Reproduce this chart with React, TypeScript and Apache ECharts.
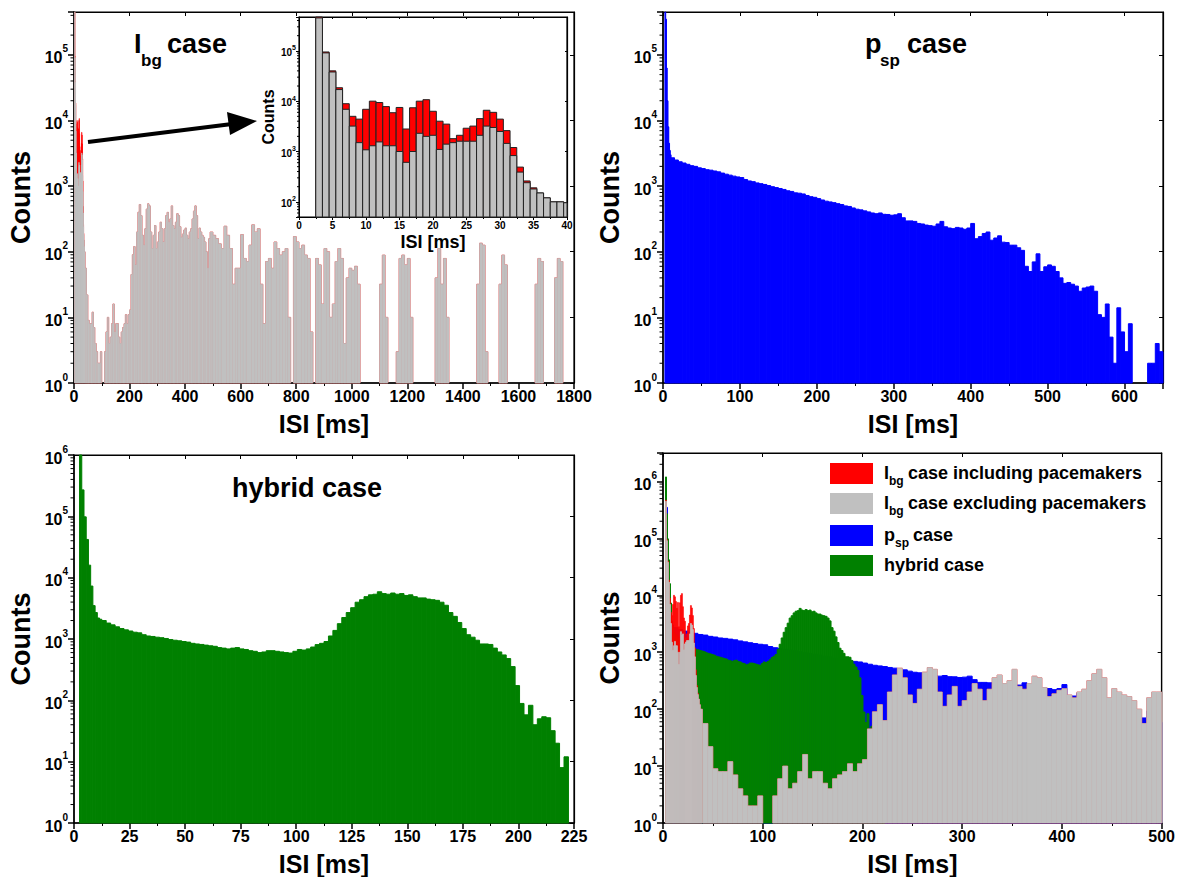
import React, { useEffect, useRef } from 'react';
import * as echarts from 'echarts';

const FONT = "'Liberation Sans', Arial, Helvetica, sans-serif";

// ---------- DATA ----------
// I_bg case, 1-ms bins (centres in ms), as shown in the inset
const insetCentres = [3, 4, 5, 6, 7, 8, 9, 10, 11, 12, 13, 14, 15, 16, 17, 18, 19, 20, 21, 22, 23, 24, 25, 26, 27, 28, 29, 30, 31, 32, 33, 34, 35, 36, 37, 38, 39, 40];
const ibgExclFine = [450000, 91000, 38000, 17000, 6900, 3200, 1500, 1080, 1300, 1550, 1300, 1300, 1000, 610, 1000, 2300, 2000, 2100, 1100, 1400, 1500, 1600, 1600, 1600, 2100, 3200, 3000, 2500, 1450, 830, 390, 240, 180, 150, 120, 100, 100, 96];
const ibgInclFine = [470000, 95000, 40000, 18500, 8900, 5000, 4400, 6900, 10000, 9400, 7800, 5900, 7500, 2800, 7400, 10000, 10700, 6300, 4000, 3500, 1800, 2100, 2900, 3200, 4500, 6600, 6000, 4400, 2600, 1200, 490, 260, 190, 150, 120, 100, 100, 96];

// I_bg case, 5-ms bins from 40 ms to 500 ms (pacemakers contribute nothing here)
const ibgMidStart = 40;
const ibgMidWidth = 5;
const ibgMid = [
  56, 22, 9, 8, 8, 12, 7, 4, 3, 2,
  2, 3, 1, 0, 3, 6, 10, 4, 5, 8,
  16, 6, 8, 8, 5, 4, 6, 7, 8, 11,
  8, 11, 13, 45, 90, 120, 63, 200, 400, 525,
  355, 178, 126, 224, 447, 537, 500, 200, 112, 178,
  251, 112, 141, 200, 282, 224, 141, 224, 355, 398,
  282, 316, 500, 251, 224, 282, 380, 355, 240, 166,
  186, 214, 229, 178, 158, 200, 224, 316, 417, 500,
  355, 158, 229, 200, 178, 166, 141, 100, 56, 158,
  200, 200,
];

// I_bg case, 10-ms bins from 500 ms to 1800 ms
const ibgFarStart = 500;
const ibgFarWidth = 10;
const ibgFar = [
  178, 158, 132, 112, 245, 178, 112, 32, 56, 56,
  182, 79, 71, 126, 257, 200, 224, 32, 8, 71,
  79, 56, 141, 112, 89, 100, 112, 10, 0, 170,
  141, 112, 126, 89, 79, 6, 0, 79, 63, 16,
  112, 100, 10, 16, 71, 112, 79, 4, 40, 56,
  52, 60, 32, 0, 0, 0, 0, 0, 0, 0,
  32, 89, 10, 0, 0, 0, 3, 79, 89, 63,
  79, 10, 0, 0, 0, 0, 0, 0, 0, 0,
  40, 112, 32, 79, 10, 0, 0, 0, 0, 0,
  0, 0, 0, 0, 0, 32, 135, 126, 3, 0,
  0, 0, 0, 32, 89, 63, 0, 0, 0, 0,
  0, 0, 0, 0, 0, 0, 32, 79, 71, 0,
  0, 0, 0, 40, 79, 71, 0, 0, 0, 0,
];

// p_sp case
const pspFineStart = 2.5;
const pspFineWidth = 1;
const pspFine = [500000, 350000, 63000, 20000, 8000, 4500, 3500, 3000];
const pspMainStart = 10;
const pspMainWidth = 5;
const pspMain = [
  2700, 2500, 2350, 2250, 2150, 2050, 2000, 1900, 1850, 1780,
  1750, 1700, 1650, 1580, 1520, 1470, 1420, 1380, 1350, 1260,
  1200, 1170, 1120, 1090, 1060, 1020, 980, 950, 920, 890,
  850, 830, 790, 780, 760, 720, 690, 675, 645, 615,
  590, 575, 560, 540, 525, 500, 490, 465, 445, 435,
  420, 405, 390, 380, 390, 372, 370, 360, 365, 380,
  330, 295, 295, 290, 270, 265, 255, 250, 245, 265,
  290, 240, 230, 225, 235, 230, 220, 230, 270, 158,
  170, 190, 200, 150, 162, 175, 140, 138, 126, 126,
  115, 105, 60, 50, 70, 93, 50, 59, 63, 60,
  50, 40, 33, 34, 32, 30, 25, 28, 29, 30,
  25, 11, 10, 16, 5, 2, 14, 6, 3, 8,
  0, 0, 0, 0, 2, 2, 4, 3,
];

// hybrid case
const hybFineStart = 2.5;
const hybFineWidth = 1;
const hybFine = [1200000, 270000, 98000, 42000, 16000, 7300, 3500, 2700, 2200, 2100];
const hybMainStart = 12.5;
const hybMainWidth = 2;
const hybMain = [
  2000, 1820, 1700, 1580, 1480, 1410, 1350, 1290, 1260, 1175,
  1120, 1100, 1070, 1050, 1020, 980, 955, 935, 910, 890,
  850, 830, 815, 795, 775, 760, 725, 710, 690, 710,
  725, 690, 675, 645, 630, 600, 615, 645, 645, 630,
  615, 600, 590, 630, 675, 660, 690, 740, 810, 850,
  910, 1120, 1380, 1780, 2240, 2700, 3240, 3980, 4370, 4900,
  5250, 5370, 5890, 5500, 5370, 5620, 5370, 5500, 5130, 5250,
  4900, 4680, 4680, 4470, 4370, 4270, 3980, 3550, 2700, 2340,
  1860, 1480, 1175, 1070, 955, 830, 830, 815, 710, 615,
  550, 480, 355, 174, 89, 58, 83, 40, 50, 54,
  52, 32, 20, 8, 12, 0,
];

const COLORS = { red: '#FF0000', gray: '#C0C0C0', blue: '#0000FF', green: '#008000' };

// ---------- helpers ----------
type Bin = [number, number, number];
const bins = (start: number, width: number, vals: number[]): Bin[] =>
  vals.map((v, i) => [start + i * width, start + (i + 1) * width, v] as Bin).filter((d) => d[2] > 0);
const centred = (centres: number[], vals: number[]): Bin[] =>
  vals.map((v, i) => [centres[i] - 0.5, centres[i] + 0.5, v] as Bin).filter((d) => d[2] > 0);

const nFine = 37; // main panels use the 1-ms bins up to 39.5 ms
const ibgExclAll = [
  ...centred(insetCentres.slice(0, nFine), ibgExclFine.slice(0, nFine)),
  ...bins(ibgMidStart, ibgMidWidth, ibgMid),
  ...bins(ibgFarStart, ibgFarWidth, ibgFar),
];
const ibgInclAll = [
  ...centred(insetCentres.slice(0, nFine), ibgInclFine.slice(0, nFine)),
  ...bins(ibgMidStart, ibgMidWidth, ibgMid),
  ...bins(ibgFarStart, ibgFarWidth, ibgFar),
];
const pspAll = [...bins(pspFineStart, pspFineWidth, pspFine), ...bins(pspMainStart, pspMainWidth, pspMain)];
const hybAll = [...bins(hybFineStart, hybFineWidth, hybFine), ...bins(hybMainStart, hybMainWidth, hybMain)];

function hist(xi: number, data: Bin[], base: number, fill: string, stroke: string, lw: number) {
  return {
    type: 'custom',
    xAxisIndex: xi,
    yAxisIndex: xi,
    silent: true,
    data,
    encode: { x: [0, 1], y: 2 },
    renderItem: (params: any, api: any) => {
      const a = api.coord([api.value(0), base]);
      const b = api.coord([api.value(1), api.value(2)]);
      const cs = params.coordSys;
      const left = Math.max(a[0], cs.x);
      const right = Math.min(b[0], cs.x + cs.width);
      const top = Math.max(b[1], cs.y);
      const bottom = Math.min(a[1], cs.y + cs.height);
      if (right <= left || bottom <= top) return { type: 'group', children: [] };
      return {
        type: 'rect',
        shape: { x: left, y: top, width: right - left, height: bottom - top },
        style: { fill, stroke, lineWidth: lw },
      };
    },
  };
}

const MINOR = [2, 3, 4, 5, 6, 7, 8, 9];
function logMinorTicks(xi: number, xMin: number, yMin: number, yMax: number, len: number) {
  const vals: number[][] = [];
  for (let e = Math.floor(Math.log10(yMin)); e <= Math.ceil(Math.log10(yMax)); e++) {
    for (const k of MINOR) {
      const v = k * Math.pow(10, e);
      if (v >= yMin && v <= yMax) vals.push([xMin, v]);
    }
  }
  return {
    type: 'custom',
    xAxisIndex: xi,
    yAxisIndex: xi,
    silent: true,
    clip: false,
    data: vals,
    encode: { x: 0, y: 1 },
    renderItem: (_p: any, api: any) => {
      const c = api.coord([api.value(0), api.value(1)]);
      return { type: 'line', shape: { x1: c[0] - len, y1: c[1], x2: c[0], y2: c[1] }, style: { stroke: '#000', lineWidth: 1 } };
    },
  };
}

const t = (size: number) => ({ fontFamily: FONT, fontWeight: 'bold', fontSize: size, color: '#000' });

const powLabel = (v: number) => {
  const l = Math.log10(v);
  const e = Math.round(l);
  return Math.abs(l - e) < 1e-6 ? `{b|10}{s|${e}}` : '';
};

// panel definitions
const panels = [
  { grid: { left: 74, top: 12, width: 500, height: 371 }, xMax: 1800, xInt: 200, yMin: 1, yMax: 450000, big: true },
  { grid: { left: 663, top: 12, width: 500, height: 371 }, xMax: 650, xInt: 100, yMin: 1, yMax: 450000, big: true },
  { grid: { left: 74, top: 455, width: 500, height: 370 }, xMax: 225, xInt: 25, yMin: 1, yMax: 1000000, big: true },
  { grid: { left: 663, top: 453, width: 500, height: 372 }, xMax: 500, xInt: 100, yMin: 1, yMax: 3160000, big: true },
  { grid: { left: 299, top: 17, width: 268, height: 200 }, xMax: 40, xInt: 5, yMin: 50, yMax: 470000, big: false },
];

function buildOption() {
  const grid = panels.map((p) => ({
    ...p.grid,
    show: true,
    borderColor: '#000',
    borderWidth: 1.2,
    backgroundColor: p.big ? 'transparent' : '#fff',
    containLabel: false,
  }));

  const xAxis: any[] = [];
  const yAxis: any[] = [];
  panels.forEach((p, i) => {
    const fs = p.big ? 16 : 10;
    const lw = p.big ? 1.5 : 1;
    xAxis.push({
      type: 'value',
      gridIndex: i,
      min: 0,
      max: p.xMax,
      interval: p.xInt,
      position: 'bottom',
      axisLine: { onZero: false, lineStyle: { color: '#000', width: lw } },
      axisTick: { show: true, length: p.big ? 6 : 3, lineStyle: { color: '#000', width: lw } },
      minorTick: { show: true, splitNumber: 2, length: p.big ? 3 : 2, lineStyle: { color: '#000', width: 1 } },
      splitLine: { show: false },
      axisLabel: {
        ...t(fs),
        margin: p.big ? 5 : 3,
        formatter: (v: number) => (v % p.xInt === 0 ? String(v) : ''),
      },
      name: 'ISI [ms]',
      nameLocation: 'middle',
      nameGap: p.big ? 28 : 16,
      nameTextStyle: t(p.big ? 25 : 18),
    });
    yAxis.push({
      type: 'log',
      logBase: 10,
      gridIndex: i,
      min: p.yMin,
      max: p.yMax,
      position: 'left',
      axisLine: { onZero: false, lineStyle: { color: '#000', width: lw } },
      axisTick: { show: true, length: p.big ? 6 : 3, lineStyle: { color: '#000', width: lw } },
      splitLine: { show: false },
      axisLabel: {
        margin: p.big ? 6 : 3,
        formatter: powLabel,
        rich: {
          b: { ...t(fs), lineHeight: p.big ? 22 : 13, verticalAlign: 'bottom' },
          s: { ...t(p.big ? 10 : 7), lineHeight: p.big ? 10 : 7, verticalAlign: 'top' },
        },
      },
      name: 'Counts',
      nameLocation: 'middle',
      nameRotate: 90,
      nameGap: p.big ? 40 : 23,
      nameTextStyle: t(p.big ? 27 : 16),
    });
  });
  // frame axes (top / right) with inward ticks
  panels.forEach((p, i) => {
    xAxis.push({
      type: 'value', gridIndex: i, min: 0, max: p.xMax, interval: p.xInt, position: 'top',
      axisLine: { onZero: false, lineStyle: { color: '#000', width: 1.2 } },
      axisTick: { show: true, inside: true, length: p.big ? 4 : 2, lineStyle: { color: '#000' } },
      axisLabel: { show: false }, splitLine: { show: false },
    });
    yAxis.push({
      type: 'log', logBase: 10, gridIndex: i, min: p.yMin, max: p.yMax, position: 'right',
      axisLine: { onZero: false, lineStyle: { color: '#000', width: 1.2 } },
      axisTick: { show: true, inside: true, length: p.big ? 4 : 2, lineStyle: { color: '#000' } },
      axisLabel: { show: false }, splitLine: { show: false },
    });
  });

  const series: any[] = [
    // panel 1
    hist(0, ibgInclAll, 1, COLORS.red, COLORS.red, 0.6),
    hist(0, ibgExclAll, 1, COLORS.gray, COLORS.gray, 0.7),
    // panel 2
    hist(1, pspAll, 1, COLORS.blue, COLORS.blue, 1),
    // panel 3
    hist(2, hybAll, 1, COLORS.green, COLORS.green, 1),
    // panel 4
    hist(3, pspAll, 1, COLORS.blue, COLORS.blue, 1),
    hist(3, hybAll, 1, COLORS.green, COLORS.green, 1),
    hist(3, ibgInclAll, 1, COLORS.red, COLORS.red, 0.6),
    hist(3, ibgExclAll, 1, COLORS.gray, COLORS.gray, 0.7),
    // inset
    hist(4, centred(insetCentres, ibgInclFine), 50, COLORS.red, '#222', 1),
    hist(4, centred(insetCentres, ibgExclFine), 50, COLORS.gray, '#222', 1),
  ];
  panels.forEach((p, i) => series.push(logMinorTicks(i, 0, p.yMin, p.yMax, p.big ? 3.5 : 2)));

  const big = (s: number) => ({ font: `bold ${s}px ${FONT}`, fill: '#000' });
  const txt = (x: number, y: number, text: string, size: number) => ({
    type: 'text', x, y, z: 100, style: { text, ...big(size), align: 'left', verticalAlign: 'middle' },
  });

  const legendRows = [
    { y: 473, color: COLORS.red, parts: [['I', 884, 18], ['bg', 889, 12], ['case including pacemakers', 908, 18]] },
    { y: 503, color: COLORS.gray, parts: [['I', 884, 18], ['bg', 889, 12], ['case excluding pacemakers', 908, 18]] },
    { y: 535, color: COLORS.blue, parts: [['p', 884, 18], ['sp', 895, 12], ['case', 913, 18]] },
    { y: 565, color: COLORS.green, parts: [['hybrid case', 884, 18]] },
  ];
  const legend: any[] = [];
  legendRows.forEach((r) => {
    legend.push({ type: 'rect', z: 100, shape: { x: 830, y: r.y - 10, width: 43, height: 21 }, style: { fill: r.color } });
    r.parts.forEach(([s, x, size]) => {
      const sub = size === 12;
      legend.push(txt(x as number, r.y + (sub ? 8 : 0), s as string, size as number));
    });
  });

  const graphic = [
    // panel titles
    txt(134, 44, 'I', 27),
    txt(141, 60, 'bg', 17),
    txt(167, 44, 'case', 27),
    txt(865, 44, 'p', 27),
    txt(880, 60, 'sp', 17),
    txt(907, 44, 'case', 27),
    txt(232, 488, 'hybrid case', 27),
    // arrow
    { type: 'line', z: 100, shape: { x1: 88, y1: 142, x2: 232, y2: 124 }, style: { stroke: '#000', lineWidth: 4 } },
    { type: 'polygon', z: 100, shape: { points: [[257, 121], [227, 112], [230, 135]] }, style: { fill: '#000' } },
    ...legend,
  ];

  return { animation: false, backgroundColor: '#fff', grid, xAxis, yAxis, series, graphic };
}

export default function App() {
  const ref = useRef<HTMLDivElement>(null);
  useEffect(() => {
    const chart = echarts.init(ref.current!, undefined, { renderer: 'svg' });
    chart.setOption(buildOption() as any);
    return () => chart.dispose();
  }, []);
  return (
    <div
      ref={ref}
      style={{ position: 'fixed', left: 0, top: 0, width: 1178, height: 877, background: '#fff' }}
    />
  );
}
